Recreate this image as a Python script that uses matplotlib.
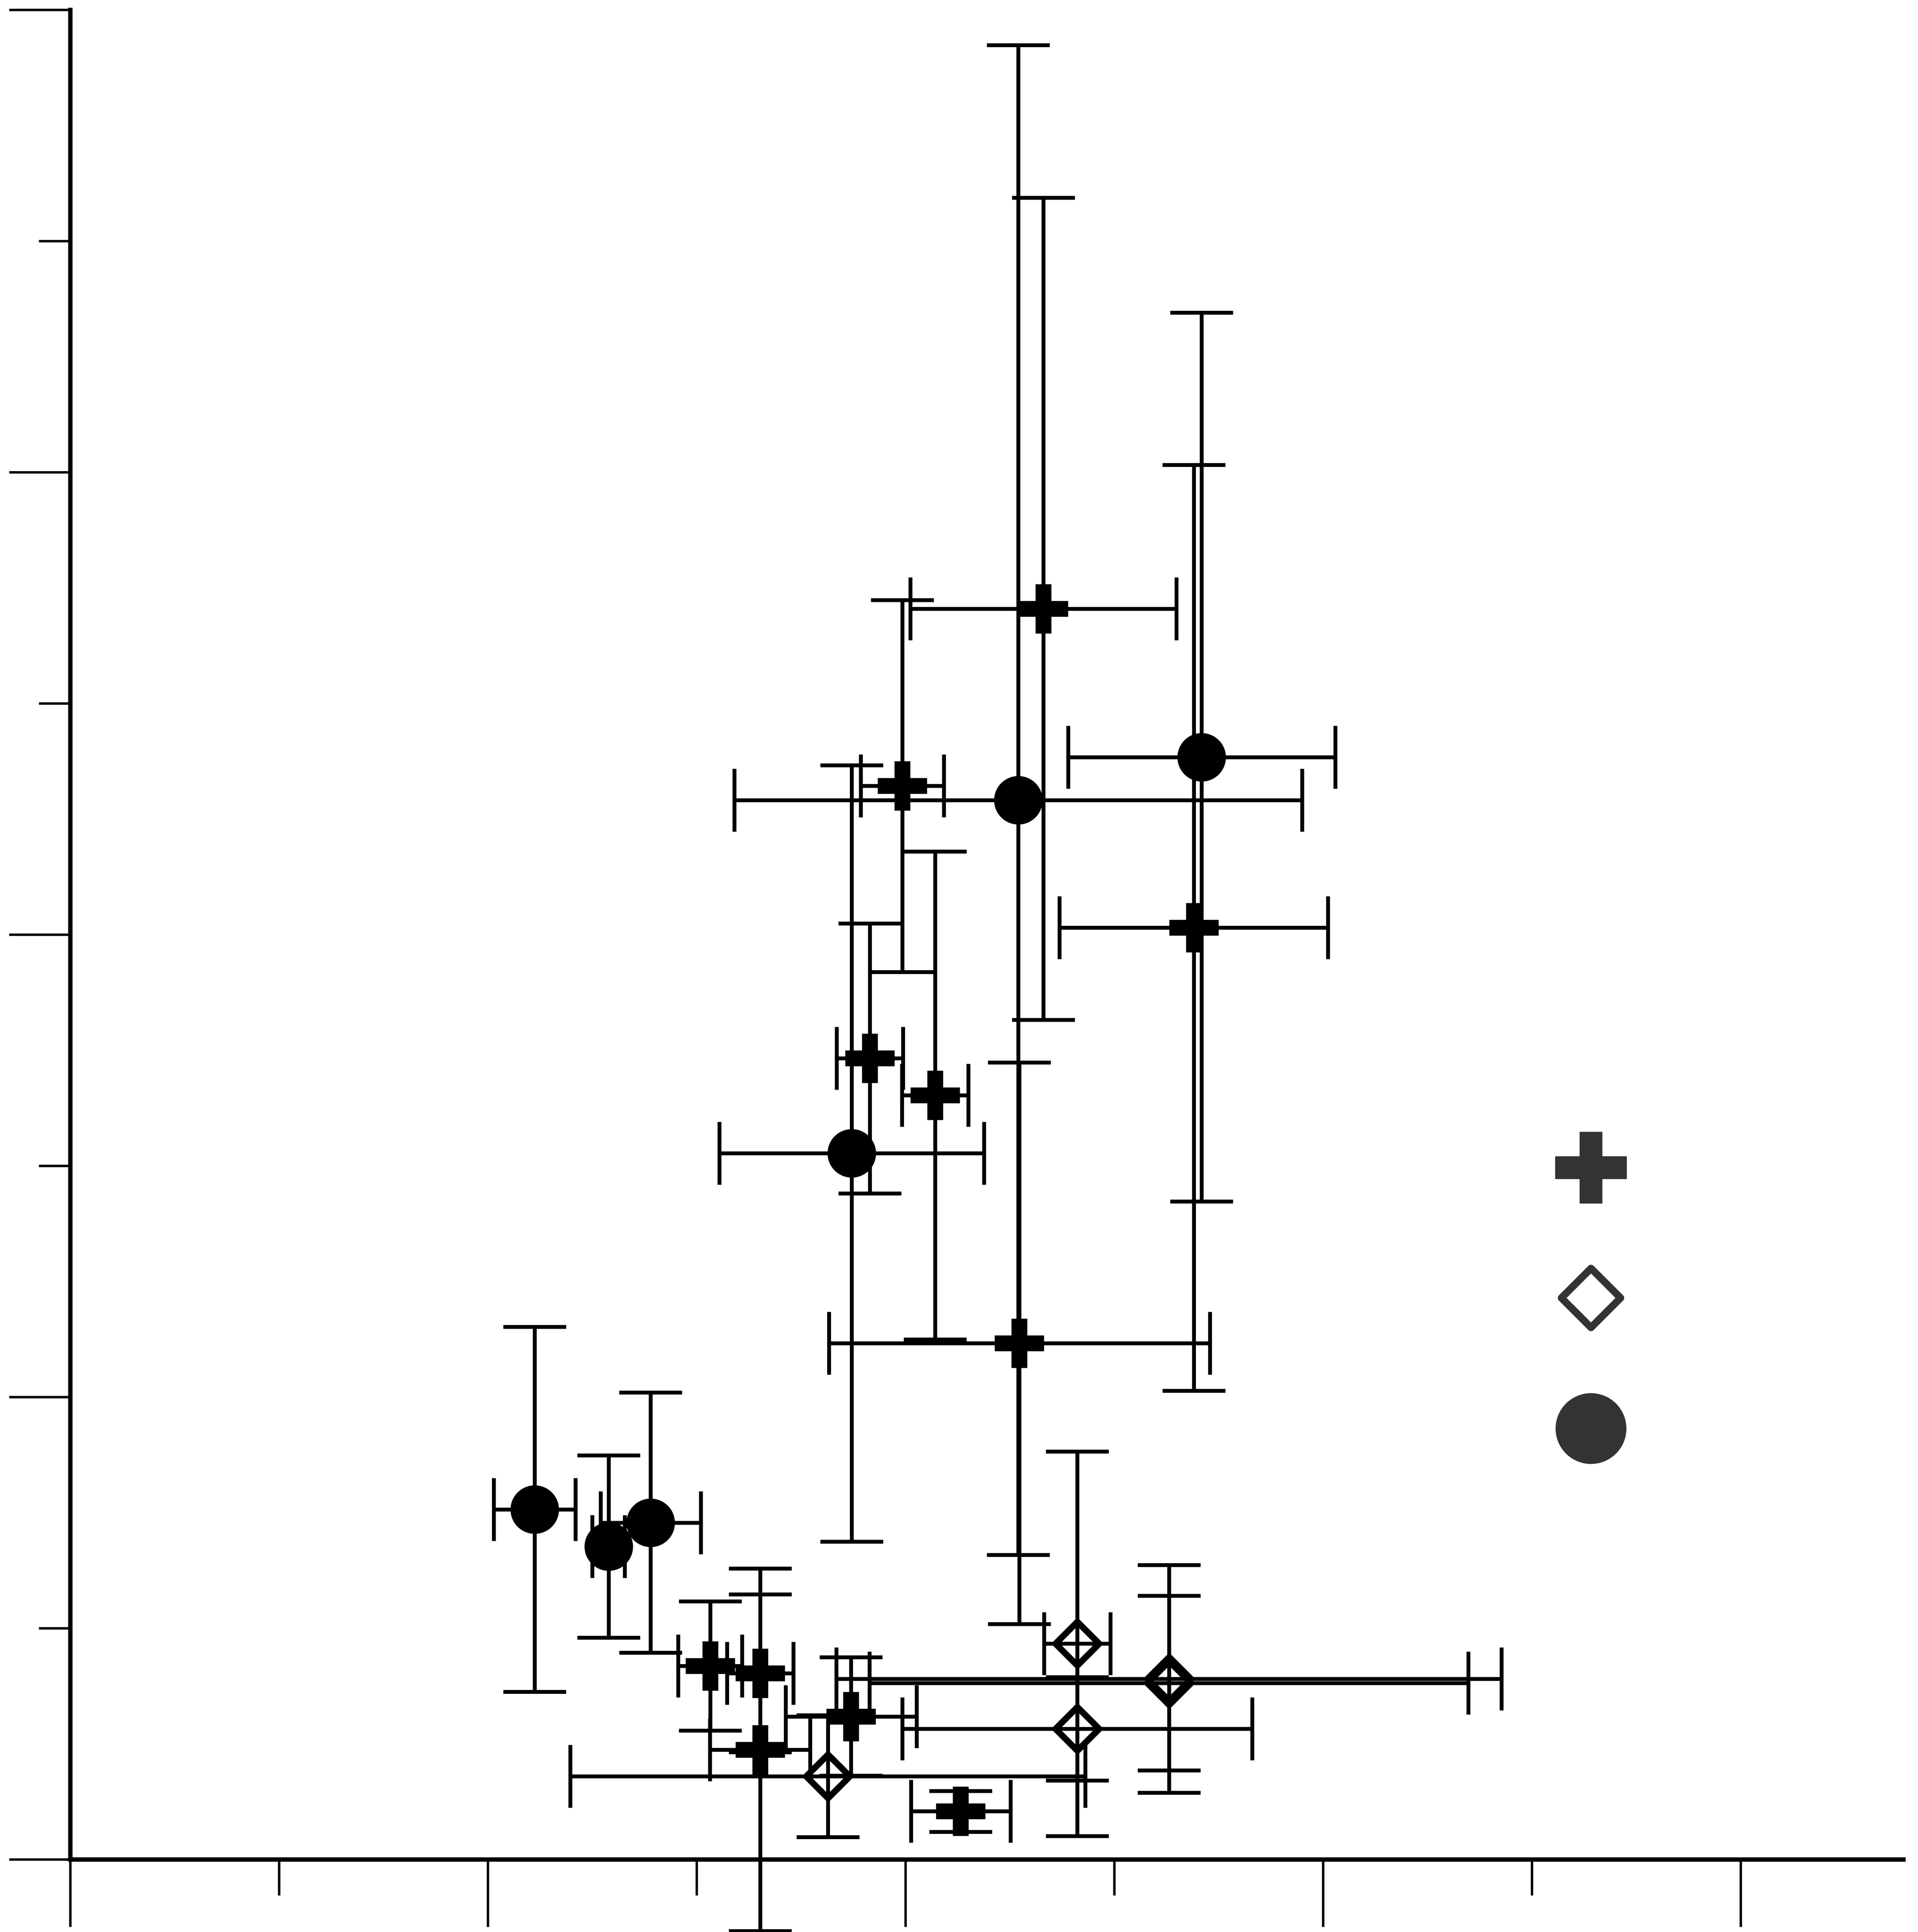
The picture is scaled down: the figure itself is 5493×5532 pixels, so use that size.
import numpy as np
import matplotlib.pyplot as plt
from matplotlib.path import Path
from matplotlib.lines import Line2D
from matplotlib.ticker import MultipleLocator

# filled circles
circ_x = [2.224, 2.578, 2.780, 3.743, 4.540, 5.419]
circ_y = [1.514, 1.354, 1.457, 3.054, 4.582, 4.768]
circ_xerr = [0.195, 0.078, 0.240, 0.634, 1.360, 0.640]
circ_yerr = [0.789, 0.394, 0.563, 1.679, 3.265, 1.922]

# filled crosses
cross_x = [4.661, 3.985, 5.381, 3.829, 4.142, 4.546, 3.065, 3.304, 3.304, 3.740, 4.265]
cross_y = [5.410, 4.643, 4.030, 3.465, 3.305, 2.233, 0.837, 0.805, 0.474, 0.618, 0.208]
cross_xerr = [0.637, 0.199, 0.643, 0.159, 0.159, 0.912, 0.153, 0.159, 0.240, 0.313, 0.239]
cross_yerr = [1.778, 0.805, 2.002, 0.584, 1.055, 1.215, 0.280, 0.341, 0.784, 0.256, 0.088]

# open diamonds
diam_x = [3.628, 4.823, 5.262, 5.262, 4.823]
diam_y = [0.360, 0.933, 0.781, 0.763, 0.565]
diam_xerr = [1.233, 0.159, 1.593, 1.434, 0.838]
diam_yerr = [0.264, 0.832, 0.493, 0.378, 0.224]

# marker shapes
w, e = 0.155, 0.5
plus_mk = Path([(-w, -e), (w, -e), (w, -w), (e, -w), (e, w), (w, w), (w, e),
                (-w, e), (-w, w), (-e, w), (-e, -w), (-w, -w), (-w, -e)],
               closed=True)
diam_mk = Path([(0, 1), (1, 0), (0, -1), (-1, 0), (0, 1)], closed=True)

fig = plt.figure(figsize=(54.93, 55.32), dpi=100)
ax = fig.add_axes([0.0366, 0.0376, 0.9557, 0.9573])

eb = dict(fmt='none', ecolor='black', elinewidth=8, capsize=65, capthick=8,
          clip_on=False, zorder=2)
ax.errorbar(circ_x, circ_y, xerr=circ_xerr, yerr=circ_yerr, **eb)
ax.errorbar(cross_x, cross_y, xerr=cross_xerr, yerr=cross_yerr, **eb)
ax.errorbar(diam_x, diam_y, xerr=diam_xerr, yerr=diam_yerr, **eb)

ax.plot(circ_x, circ_y, linestyle='none', marker='o', markersize=99,
        color='black', zorder=3)
ax.plot(cross_x, cross_y, linestyle='none', marker=plus_mk, markersize=101,
        color='black', markeredgewidth=1, zorder=3)
ax.plot(diam_x, diam_y, linestyle='none', marker=diam_mk, markersize=90,
        markerfacecolor='none', markeredgecolor='black', markeredgewidth=13,
        zorder=3)

ax.set_xlim(0, 8.779)
ax.set_ylim(0, 8.0)

ax.xaxis.set_major_locator(MultipleLocator(2))
ax.xaxis.set_minor_locator(MultipleLocator(1))
ax.yaxis.set_major_locator(MultipleLocator(2))
ax.yaxis.set_minor_locator(MultipleLocator(1))
ax.tick_params(axis='x', which='major', direction='out', length=139, width=5,
               labelbottom=False)
ax.tick_params(axis='x', which='minor', direction='out', length=74, width=5)
ax.tick_params(axis='y', which='major', direction='out', length=126, width=5,
               labelleft=False)
ax.tick_params(axis='y', which='minor', direction='out', length=65, width=5)

for s in ['top', 'right']:
    ax.spines[s].set_visible(False)
for s in ['left', 'bottom']:
    ax.spines[s].set_linewidth(9)

key_color = '#333333'
handles = [
    Line2D([], [], linestyle='none', marker=plus_mk, markersize=147,
           color=key_color, markeredgewidth=1),
    Line2D([], [], linestyle='none', marker=diam_mk, markersize=122,
           markerfacecolor='none', markeredgecolor=key_color,
           markeredgewidth=15),
    Line2D([], [], linestyle='none', marker='o', markersize=145,
           color=key_color),
]
fig.legend(handles=handles, labels=['', '', ''], loc='center',
           bbox_to_anchor=(0.8294, 0.3247), frameon=False, fontsize=100,
           handlelength=1.5, handleheight=1.5, handletextpad=0,
           borderpad=0, labelspacing=1.47)

fig.savefig('out.png', dpi=100)
